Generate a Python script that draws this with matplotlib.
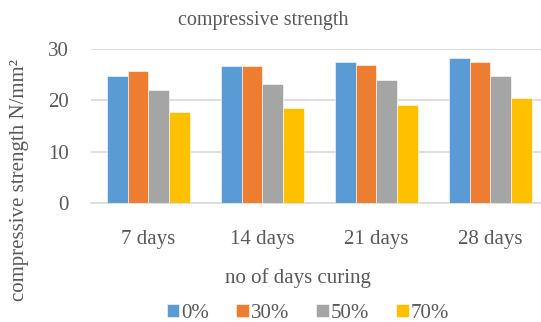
import numpy as np
import matplotlib
matplotlib.use('Agg')
import matplotlib.pyplot as plt

plt.rcParams['font.family'] = ['Liberation Serif', 'DejaVu Serif']

# curing age groups and replacement levels
days = ['7 days', '14 days', '21 days', '28 days']
series = ['0%', '30%', '50%', '70%']
s0 = [24.8, 26.6, 27.5, 28.3]
s30 = [25.7, 26.6, 26.9, 27.5]
s50 = [22.1, 23.1, 23.9, 24.8]
s70 = [17.7, 18.6, 19.1, 20.4]
colors = ['#5B9BD5', '#ED7D31', '#A5A5A5', '#FFC000']

txt = '#595959'
W, H = 541, 322
fig = plt.figure(figsize=(W / 100, H / 100), dpi=100)
ax = fig.add_axes([0.1688, 0.3686, 0.843, 0.4792])

x = np.arange(len(days))
w = 0.181
for i, vals in enumerate([s0, s30, s50, s70]):
    ax.bar(x + (i - 1.5) * w, vals, w, color=colors[i], label=series[i],
           edgecolor='white', linewidth=0.4, zorder=3)

ax.set_xlim(-0.5, 3.5)
ax.set_ylim(0, 30)
ax.set_yticks([0, 10, 20, 30])
ax.set_xticks(x)
ax.set_xticklabels(days)
ax.grid(axis='y', color='#D9D9D9', linewidth=1.2, zorder=0)
for s in ['top', 'right', 'left']:
    ax.spines[s].set_visible(False)
ax.spines['bottom'].set_color('#D9D9D9')
ax.spines['bottom'].set_linewidth(1.2)
ax.tick_params(length=0, labelsize=15, colors=txt)
ax.tick_params(axis='x', pad=19)
ax.tick_params(axis='y', pad=16)

# titles placed in figure pixels
fig.text(263 / W, 1 - 20 / H, 'compressive strength', ha='center', va='center',
         fontsize=14.5, color=txt)
fig.text(298 / W, 1 - 278 / H, 'no of days curing', ha='center', va='center',
         fontsize=15, color=txt)
fig.text(20 / W, 1 - 180 / H, 'compressive strength N/mm²', ha='center',
         va='center', rotation=90, fontsize=15, color=txt)

fig.legend(loc='center', bbox_to_anchor=(308 / W, 1 - 313 / H), ncol=4,
           frameon=False, fontsize=15, handlelength=0.6, handleheight=0.6,
           handletextpad=0.1, columnspacing=1.3, labelcolor=txt)

fig.savefig('out.png', dpi=100)
